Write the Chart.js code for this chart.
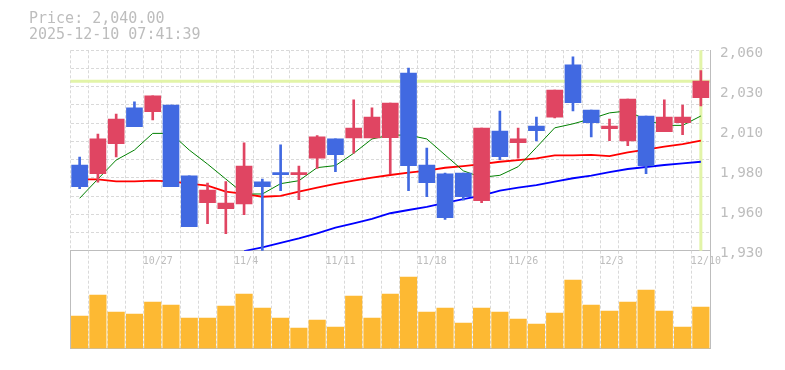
<!DOCTYPE html>
<html>
<head>
<meta charset="utf-8">
<script src="https://cdn.jsdelivr.net/npm/chart.js@4/dist/chart.umd.min.js"></script>
<style>
  html, body { margin: 0; padding: 0; background: #ffffff; }
  #wrap { position: relative; width: 785px; height: 370px; overflow: hidden; }
  canvas { position: absolute; left: 0; top: 0; }
  .title { position: absolute; left: 29px; font-family: "DejaVu Sans Mono", monospace; font-size: 15px; line-height: 16px; color: #bdbdbd; white-space: pre; }
</style>
</head>
<body>
<div id="wrap">
  <canvas id="main" width="785" height="370"></canvas>
  <canvas id="vol" width="785" height="370"></canvas>
  <div class="title" id="t1" style="top:10px"></div>
  <div class="title" id="t2" style="top:26px"></div>
</div>
<script>
// ---- data ----
const titlePrice = 'Price: 2,040.00';
const titleTime = '2025-12-10 07:41:39';
const currentPrice = 2040;

const dates = ['10/21','10/22','10/23','10/24','10/27','10/28','10/29','10/30','10/31','11/4','11/5','11/6','11/7','11/10','11/11','11/12','11/13','11/14','11/17','11/18','11/19','11/20','11/21','11/25','11/26','11/27','11/28','12/1','12/2','12/3','12/4','12/5','12/8','12/9','12/10'];
const tickDates = ['10/27','11/4','11/11','11/18','11/26','12/3','12/10'];

const openP  = [1985.6,1980.0,1999.4,2022.6,2020.2,2024.5,1978.5,1961.2,1957.3,1960.4,1974.6,1980.6,1979.3,1990.1,2002.5,2003.1,2003.1,2003.3,2045.3,1985.6,1979.8,1980.4,1962.5,2007.6,2000.1,2010.9,2016.7,2050.5,2021.3,2009.1,2001.2,2017.4,2007.2,2013.0,2029.3];
const closeP = [1971.5,2002.5,2015.4,2010.5,2030.4,1971.5,1945.6,1969.4,1960.9,1984.9,1971.5,1979.3,1980.6,2003.8,1992.3,2009.6,2016.7,2025.8,1985.2,1974.1,1951.4,1965.0,2009.6,1991.0,2002.5,2007.9,2034.2,2026.0,2013.0,2010.9,2028.4,1985.2,2016.7,2016.7,2040.0];
const highP  = [1990.8,2005.7,2018.7,2026.5,2030.4,2024.5,1978.5,1973.9,1974.8,1999.9,1976.5,1998.6,1984.9,2004.6,2002.5,2027.8,2022.6,2025.8,2048.5,1996.6,1980.4,1980.4,2009.6,2020.6,2009.6,2016.7,2034.2,2055.7,2021.3,2015.4,2028.4,2017.4,2027.8,2024.5,2046.8];
const lowP   = [1970.2,1974.4,1990.8,2010.5,2014.8,1971.5,1945.6,1947.5,1941.0,1953.4,1929.0,1969.0,1963.1,1983.4,1981.3,1993.2,2003.1,1979.8,1969.0,1965.0,1950.3,1962.7,1961.2,1989.0,1990.1,2001.2,2016.1,2020.6,2003.8,2001.4,1998.1,1980.0,2007.2,2005.3,2023.9];

const maShort = [1964.0,1976.5,1988.8,1995.3,2006.1,2006.1,1995.3,1986.2,1976.5,1966.8,1966.8,1973.5,1975.4,1983.9,1985.2,1993.2,2002.5,2005.0,2005.0,2002.5,1992.1,1981.8,1977.6,1978.9,1984.5,1997.0,2009.7,2012.3,2015.6,2019.4,2020.7,2014.8,2011.3,2011.3,2017.4];
const maMid   = [1976.3,1976.3,1975.0,1975.0,1975.4,1975.0,1973.5,1972.2,1968.3,1966.8,1965.0,1965.5,1968.3,1970.9,1973.3,1975.4,1977.4,1979.1,1980.6,1981.9,1983.8,1984.9,1986.2,1987.7,1988.8,1989.9,1991.9,1991.9,1992.1,1991.4,1993.8,1995.5,1997.5,1999.2,2001.4];
const maLong  = [null,null,null,null,null,null,null,null,null,1929.8,1932.2,1935.0,1938.0,1941.3,1944.9,1947.8,1950.6,1954.3,1956.4,1958.5,1961.1,1963.5,1965.7,1968.9,1970.9,1972.6,1974.8,1977.0,1978.7,1981.0,1983.0,1984.3,1985.6,1986.7,1987.7];

const volume = [97,160,109,103,139,130,91,91,127,163,121,91,61,85,64,157,91,163,214,109,121,76,121,109,88,73,106,205,130,112,139,175,112,64,124];

const yMin = 1930, yMax = 2060;
const yTickValues = [1930,1956,1982,2008,2034,2060];
const yTickLabels = ['1,930','1,960','1,980','2,010','2,030','2,060'];
const gridLineCount = 11;
const volMax = 293;

// ---- styles ----
const UP = '#e04562', DOWN = '#4169e1';
const GRID = '#d9d9d9', AXIS = '#bdbdbd', TEXT = '#bdbdbd';
const MONO = '"DejaVu Sans Mono", monospace';

document.getElementById('t1').textContent = titlePrice;
document.getElementById('t2').textContent = titleTime;

const candleColors = closeP.map((c, i) => c >= openP[i] ? UP : DOWN);

const markerPlugin = {
  id: 'marker',
  beforeDatasetsDraw(chart) {
    const { ctx, chartArea: a, scales } = chart;
    const y = scales.y.getPixelForValue(currentPrice);
    const x = scales.x.getPixelForValue(dates.length - 1);
    ctx.save();
    ctx.strokeStyle = '#e2f4a8';
    ctx.lineWidth = 3;
    ctx.beginPath();
    ctx.moveTo(a.left, y); ctx.lineTo(a.right, y);
    ctx.moveTo(x, a.top); ctx.lineTo(x, a.bottom);
    ctx.stroke();
    ctx.restore();
  }
};

const gridTicks = [];
for (let k = 0; k <= gridLineCount; k++) gridTicks.push({ value: yMin + (yMax - yMin) * k / gridLineCount });

new Chart(document.getElementById('main'), {
  type: 'bar',
  data: {
    labels: dates,
    datasets: [
      { type: 'bar', data: openP.map((o, i) => [o, closeP[i]]), backgroundColor: candleColors, barThickness: 16, grouped: false, order: 0, yAxisID: 'y' },
      { type: 'bar', data: lowP.map((l, i) => [l, highP[i]]), backgroundColor: candleColors, barThickness: 2, grouped: false, order: 1, yAxisID: 'y' },
      { type: 'line', data: maShort, borderColor: '#008000', borderWidth: 1, pointRadius: 0, tension: 0, order: 2, yAxisID: 'y' },
      { type: 'line', data: maMid, borderColor: '#ff0000', borderWidth: 1.8, pointRadius: 0, tension: 0, order: 3, yAxisID: 'y' },
      { type: 'line', data: maLong, borderColor: '#0000ff', borderWidth: 1.8, pointRadius: 0, tension: 0, order: 4, yAxisID: 'y' }
    ]
  },
  options: {
    responsive: false, animation: false, devicePixelRatio: 1,
    layout: { padding: { left: 70.5, right: 0, top: 50.3, bottom: 99.3 } },
    plugins: { legend: { display: false }, tooltip: { enabled: false } },
    scales: {
      x: {
        offset: true,
        grid: { offset: true, color: GRID, drawTicks: false },
        border: { display: true, color: AXIS, width: 1, dash: [3, 2] },
        ticks: {
          autoSkip: false, maxRotation: 0, minRotation: 0, align: 'start', labelOffset: -10, padding: 5,
          color: TEXT, font: { family: MONO, size: 10 },
          callback: function (v) { const l = this.getLabelForValue(v); return tickDates.includes(l) ? l : ''; }
        },
        afterFit(s) { s.height = 20; }
      },
      y: {
        position: 'right', min: yMin, max: yMax,
        afterBuildTicks(s) { s.ticks = yTickValues.map(v => ({ value: v })); },
        grid: { display: false, drawTicks: false },
        border: { display: true, color: AXIS, width: 1 },
        ticks: { padding: 10, labelOffset: 3, color: TEXT, font: { family: MONO, size: 14.3 }, callback: (v, i) => yTickLabels[i] },
        afterFit(s) { s.width = 75; }
      },
      yg: {
        position: 'left', min: yMin, max: yMax,
        afterBuildTicks(s) { s.ticks = gridTicks.map(t => ({ value: t.value })); },
        grid: { color: GRID, drawTicks: false },
        border: { display: false, dash: [3, 2] },
        ticks: { display: false },
        afterFit(s) { s.width = 0; }
      }
    }
  },
  plugins: [markerPlugin]
});

new Chart(document.getElementById('vol'), {
  type: 'bar',
  data: {
    labels: dates,
    datasets: [{ data: volume, backgroundColor: '#fdb933', barThickness: 16.5 }]
  },
  options: {
    responsive: false, animation: false, devicePixelRatio: 1,
    layout: { padding: { left: 70.5, right: 75, top: 250.7, bottom: 21.5 } },
    plugins: { legend: { display: false }, tooltip: { enabled: false } },
    scales: {
      x: {
        offset: true,
        grid: { offset: true, color: GRID, drawTicks: false },
        border: { display: true, color: AXIS, width: 1, dash: [3, 2] },
        ticks: { display: false },
        afterFit(s) { s.height = 0; }
      },
      y: {
        position: 'left', min: 0, max: volMax,
        grid: { display: false, drawTicks: false },
        border: { display: true, color: AXIS, width: 1 },
        ticks: { display: false },
        afterFit(s) { s.width = 0; }
      },
      y2: {
        position: 'right', min: 0, max: volMax,
        grid: { display: false, drawTicks: false },
        border: { display: true, color: AXIS, width: 1 },
        ticks: { display: false },
        afterFit(s) { s.width = 0; }
      }
    }
  }
});
</script>
</body>
</html>
